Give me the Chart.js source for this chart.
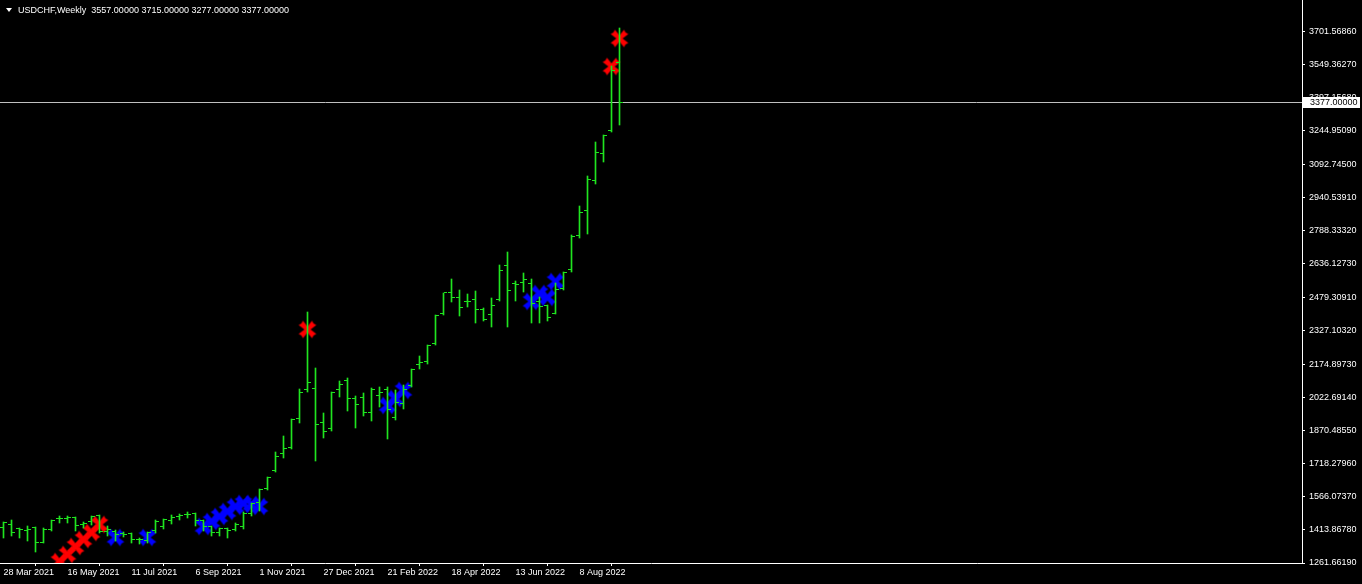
<!DOCTYPE html>
<html>
<head>
<meta charset="utf-8">
<script src="https://cdn.jsdelivr.net/npm/chart.js@4.4.1/dist/chart.umd.min.js"></script>
<style>
  html, body { margin: 0; padding: 0; background: #000; overflow: hidden; }
  canvas { display: block; }
</style>
</head>
<body>
<canvas id="myChart" width="1362" height="584"></canvas>
<script>
// weekly OHLC bars, index 0 = 28 Mar 2021
var opens = [1423,1437,1418,1411,1426,1358,1414,1468,1465,1472,
             1437,1451,1481,1405,1405,1396,1399,1371,1365,1411,
             1429,1457,1475,1484,1487,1455,1428,1400,1419,1414,
             1429,1487,1539,1603,1685,1763,1794,1927,2057,2064,
             1907,1881,2060,2098,2015,2020,1954,2032,2060,1931,
             1992,2075,2171,2187,2271,2409,2505,2478,2464,2470,
             2427,2400,2473,2626,2546,2551,2543,2462,2442,2409,
             2523,2607,2763,2878,3018,3143,3247,3557];
var highs = [1452,1460,1422,1432,1429,1422,1457,1478,1478,1475,
             1448,1478,1483,1432,1414,1406,1400,1376,1406,1457,
             1463,1483,1487,1498,1491,1460,1432,1422,1422,1445,
             1498,1539,1601,1656,1773,1845,1924,2060,2413,2156,
             1950,2046,2098,2110,2029,2042,2064,2069,2069,2057,
             2080,2153,2211,2262,2401,2503,2566,2516,2497,2508,
             2432,2478,2630,2689,2557,2595,2565,2482,2447,2548,
             2597,2768,2901,3036,3192,3227,3545,3715];
var lows = [1383,1388,1383,1365,1319,1356,1411,1448,1452,1411,
            1426,1442,1402,1391,1365,1387,1356,1353,1356,1406,
            1422,1445,1463,1472,1437,1411,1391,1391,1383,1411,
            1422,1483,1506,1600,1682,1750,1789,1907,2053,1735,
            1838,1873,2026,1965,1888,1942,1916,1980,1835,1922,
            1973,2072,2156,2179,2269,2405,2465,2401,2439,2366,
            2375,2350,2471,2350,2470,2512,2370,2366,2378,2407,
            2521,2604,2760,2776,3008,3109,3245,3277];
var closes = [1448,1403,1416,1417,1358,1417,1455,1468,1469,1432,
              1442,1474,1405,1414,1391,1391,1371,1368,1402,1452,
              1460,1472,1478,1482,1455,1428,1400,1419,1409,1437,
              1491,1537,1598,1653,1750,1789,1921,2046,2092,1899,
              1865,2042,2083,2019,1991,1954,2060,2042,1965,2000,
              2060,2151,2184,2259,2398,2501,2478,2436,2462,2427,
              2378,2445,2604,2512,2539,2562,2451,2439,2390,2519,
              2595,2759,2870,3020,3148,3224,3521,3377];

// signal crosses (bar index, price)
var redIdx = [7,8,9,10,11,12,38,76,77];
var redVal = [1268,1302,1336,1370,1403,1437,2335,3542,3669];
var blueIdx = [14,18,25,26,27,28,29,30,31,32,48,49,50,66,67,68,69];
var blueVal = [1379,1379,1428,1451,1474,1497,1520,1533,1529,1520,1983,2015,2052,2462,2500,2478,2554];

var xTickIdx = [0,8,16,24,32,40,48,56,64,72];
var xTickLabels = ['28 Mar 2021','16 May 2021','11 Jul 2021','6 Sep 2021','1 Nov 2021',
                   '27 Dec 2021','21 Feb 2022','18 Apr 2022','13 Jun 2022','8 Aug 2022'];
var yTickValues = [1261.6619,1413.8678,1566.0737,1718.2796,1870.4855,2022.6914,2174.8973,
                   2327.1032,2479.3091,2636.1273,2788.3332,2940.5391,3092.7450,3244.9509,
                   3397.1568,3549.3627,3701.5686];
var lastPrice = 3377;
var titleText = 'USDCHF,Weekly  3557.00000 3715.00000 3277.00000 3377.00000';

var green = '#1fe41f';
var font = '"Liberation Sans", Arial, sans-serif';

function tickImage(left) {
  var c = document.createElement('canvas');
  c.width = 7; c.height = 1;
  var g = c.getContext('2d');
  g.fillStyle = green;
  g.fillRect(left ? 0 : 4, 0, 3, 1);
  return c;
}

// brush-like X, wide at the tips and a little narrower in the middle
function crossImage(color) {
  var c = document.createElement('canvas');
  c.width = 22; c.height = 22;
  var g = c.getContext('2d');
  g.fillStyle = color;
  g.translate(11, 11);
  [Math.PI / 4, -Math.PI / 4].forEach(function (ang) {
    g.save();
    g.rotate(ang);
    g.beginPath();
    g.moveTo(-9.5, -3); g.lineTo(-5, -2.6); g.lineTo(0, -1.9); g.lineTo(5, -2.6); g.lineTo(9.5, -3);
    g.lineTo(8.5, 0); g.lineTo(9.5, 3);
    g.lineTo(5, 2.6); g.lineTo(0, 1.9); g.lineTo(-5, 2.6); g.lineTo(-9.5, 3);
    g.lineTo(-8.5, 0);
    g.closePath();
    g.fill();
    g.restore();
  });
  return c;
}

function pts(idx, vals) {
  return idx.map(function (x, k) { return {x: x, y: vals[k]}; });
}

var mt4Look = {
  id: 'mt4Look',
  beforeDraw: function (chart) {
    var c = chart.ctx;
    c.save();
    c.fillStyle = '#000';
    c.fillRect(0, 0, chart.width, chart.height);
    c.restore();
  },
  beforeDatasetsDraw: function (chart) {
    // snap marks to whole pixels like the terminal does
    chart.getSortedVisibleDatasetMetas().forEach(function (meta) {
      meta.data.forEach(function (el) {
        if (meta.type === 'bar') {
          el.y = Math.round(el.y);
          el.base = Math.round(el.base) + 1;
        } else {
          el.y = Math.round(el.y - 0.5) + 0.5;
        }
      });
    });
    var c = chart.ctx, a = chart.chartArea;
    var y = Math.round(chart.scales.y.getPixelForValue(lastPrice)) + 0.5;
    c.save();
    c.strokeStyle = '#c0c0c0';
    c.lineWidth = 1;
    c.beginPath();
    c.moveTo(a.left, y);
    c.lineTo(a.right, y);
    c.stroke();
    c.restore();
  },
  afterDraw: function (chart) {
    var c = chart.ctx, a = chart.chartArea;
    var y = Math.round(chart.scales.y.getPixelForValue(lastPrice));
    c.save();
    c.fillStyle = '#fff';
    c.fillRect(a.right + 1, y - 5, 57, 11);
    c.fillStyle = '#000';
    c.font = '9px ' + font;
    c.textBaseline = 'middle';
    c.fillText(lastPrice.toFixed(5), a.right + 8, y + 0.5);
    // title
    c.fillStyle = '#fff';
    c.beginPath();
    c.moveTo(6, 8); c.lineTo(12, 8); c.lineTo(9, 12); c.closePath();
    c.fill();
    c.fillText(titleText, 18, 10.5);
    c.restore();
  }
};

var ctx = document.getElementById('myChart').getContext('2d');
var myChart = new Chart(ctx, {
  type: 'scatter',
  data: {
    datasets: [
      {
        type: 'bar',
        data: highs.map(function (h, i) { return {x: i, y: [lows[i], h]}; }),
        backgroundColor: green,
        borderWidth: 0,
        barThickness: 1,
        order: 0
      },
      {
        data: opens.map(function (v, i) { return {x: i, y: v}; }),
        pointStyle: tickImage(true),
        pointRadius: 3,
        order: 1
      },
      {
        data: closes.map(function (v, i) { return {x: i, y: v}; }),
        pointStyle: tickImage(false),
        pointRadius: 3,
        order: 1
      },
      {
        data: pts(redIdx, redVal),
        pointStyle: crossImage('#ff0000'),
        pointRadius: 8,
        order: 3
      },
      {
        data: pts(blueIdx, blueVal),
        pointStyle: crossImage('#0000ff'),
        pointRadius: 8,
        order: 3
      }
    ]
  },
  options: {
    responsive: false,
    animation: false,
    devicePixelRatio: 1,
    events: [],
    layout: { padding: 0, autoPadding: false },
    plugins: { legend: { display: false }, tooltip: { enabled: false } },
    scales: {
      x: {
        type: 'linear',
        min: -0.4375,
        max: 162.3125,
        offset: false,
        afterBuildTicks: function (s) { s.ticks = xTickIdx.map(function (v) { return {value: v}; }); },
        afterFit: function (s) { s.height = 21; s.paddingLeft = 0; s.paddingRight = 0; },
        ticks: {
          color: '#fff',
          font: { family: font, size: 9 },
          align: 'start',
          padding: 1,
          maxRotation: 0,
          autoSkip: false,
          callback: function (v) { return xTickLabels[xTickIdx.indexOf(v)]; }
        },
        grid: { drawOnChartArea: false, color: '#fff', tickLength: 3 },
        border: { color: '#fff' }
      },
      y: {
        position: 'right',
        min: 1261.6619,
        max: 3845.8,
        afterBuildTicks: function (s) { s.ticks = yTickValues.map(function (v) { return {value: v}; }); },
        afterFit: function (s) { s.width = 60; s.paddingTop = 0; s.paddingBottom = 0; },
        ticks: {
          color: '#fff',
          font: { family: font, size: 9 },
          padding: 4,
          autoSkip: false,
          callback: function (v) { return v.toFixed(5); }
        },
        grid: { drawOnChartArea: false, color: '#fff', tickLength: 3 },
        border: { color: '#fff' }
      }
    }
  },
  plugins: [mt4Look]
});
</script>
</body>
</html>
